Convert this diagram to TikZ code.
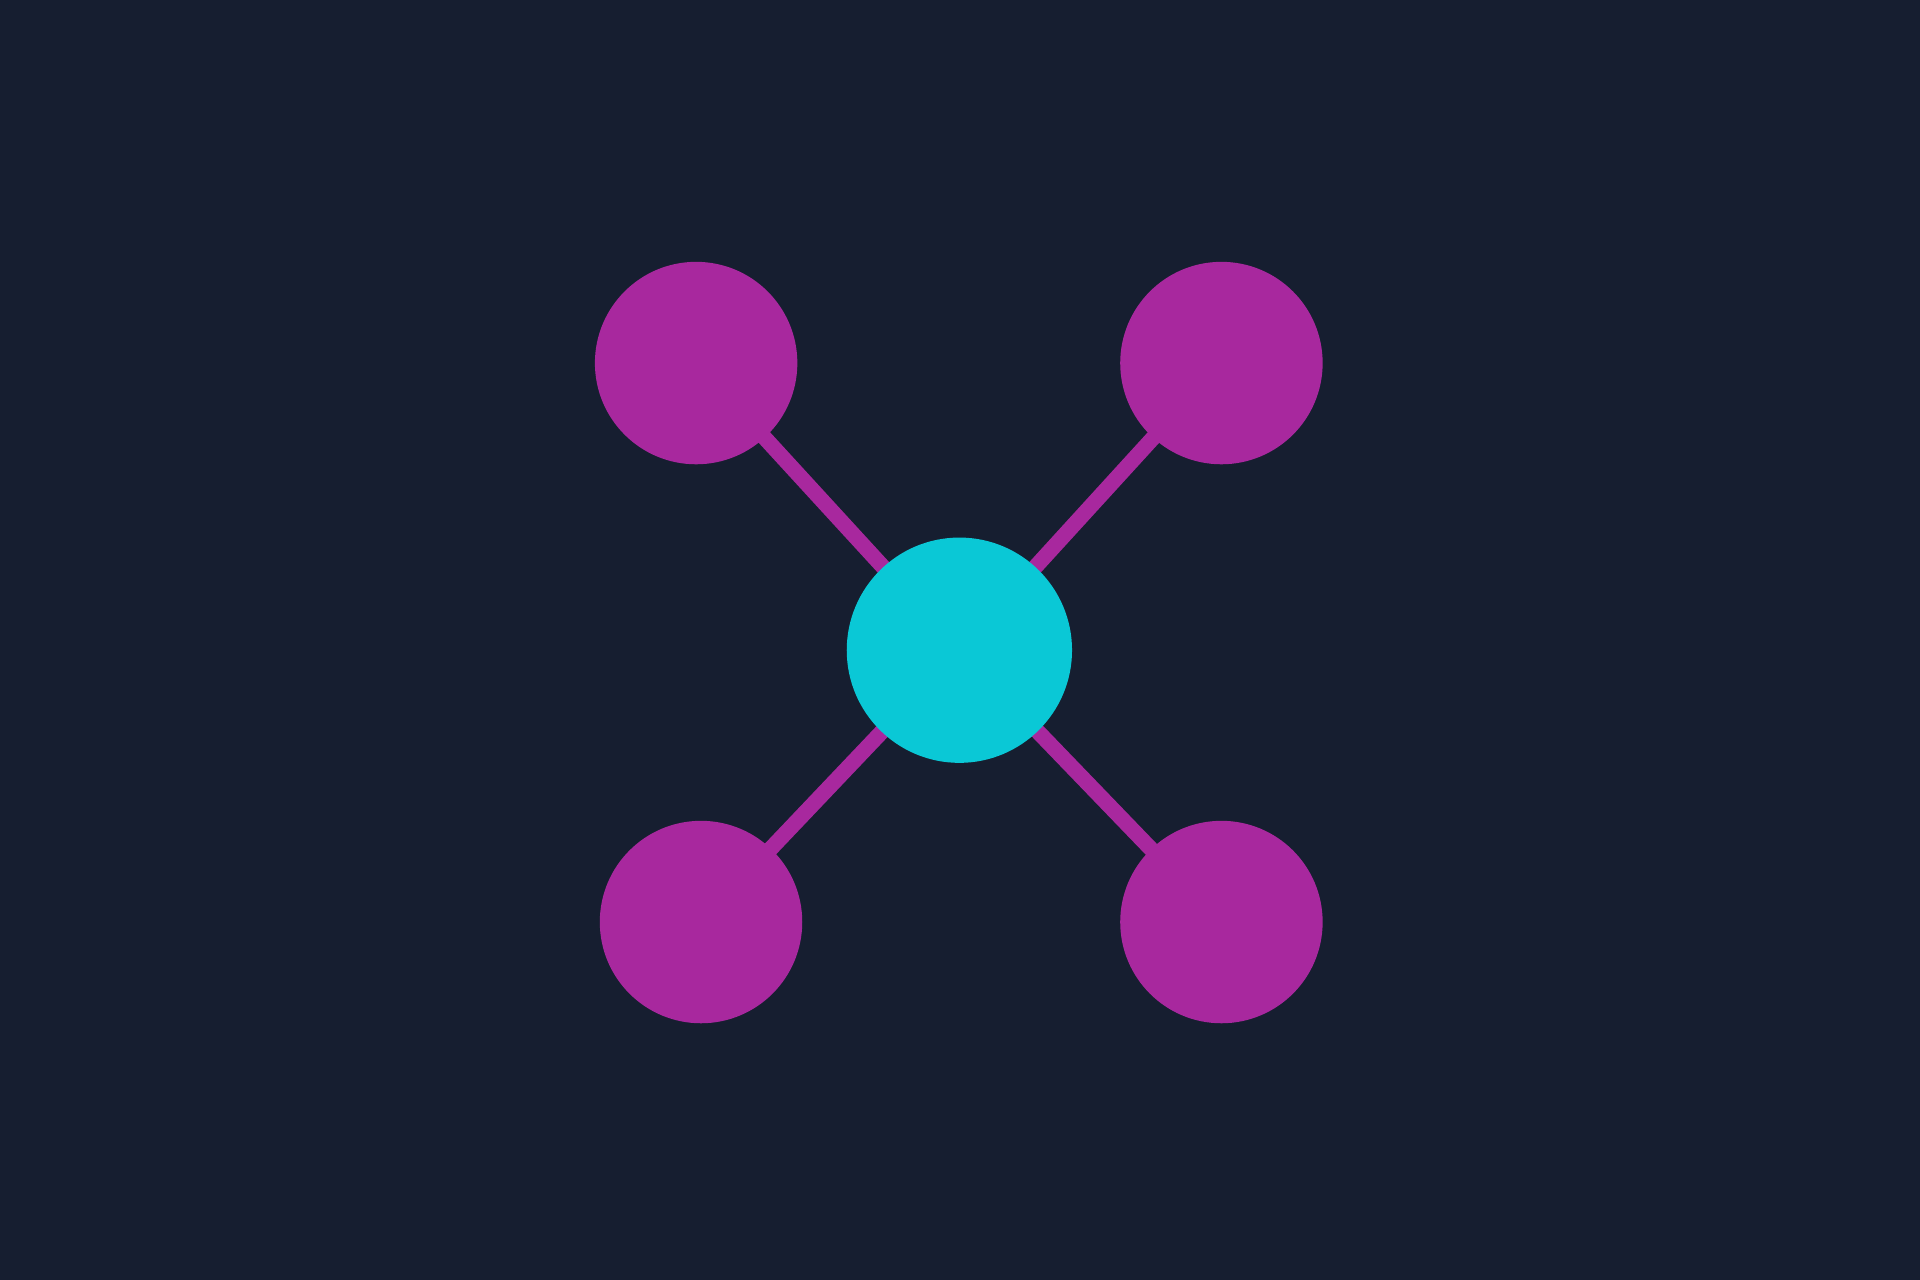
\documentclass[tikz,border=0pt]{standalone}
\usetikzlibrary{backgrounds}

\definecolor{bgnavy}{RGB}{22,30,48}
\definecolor{hubcyan}{RGB}{10,200,214}
\definecolor{leafmagenta}{RGB}{168,40,158}

\tikzset{every picture/.style={line width=0.75pt}}
\tikzset{
  leaf/.style={circle, fill=leafmagenta, draw=none, minimum size=124pt, inner sep=0pt},
  hub/.style={circle, fill=hubcyan, draw=none, minimum size=138pt, inner sep=0pt},
  spoke/.style={draw=leafmagenta, line width=9.5pt}
}

\begin{document}
\begin{tikzpicture}[x=0.75pt,y=0.75pt,yscale=-1,xscale=1]
\useasboundingbox (0,0) rectangle (1568,1045);

% Hub
\node [hub] (hub) at (783.5,531) {};
% Leaves
\node [leaf] (tl) at (568.5,296.5) {};
\node [leaf] (tr) at (997.5,296.5) {};
\node [leaf] (bl) at (572.5,753) {};
\node [leaf] (br) at (997.5,753) {};

\begin{scope}[on background layer]
% Background
\fill [bgnavy] (0,0) rectangle (1568,1045);
% Spokes
\foreach \leafname in {tl,tr,bl,br}
  \draw [spoke] (hub.center) -- (\leafname.center);
\end{scope}

\end{tikzpicture}
\end{document}
